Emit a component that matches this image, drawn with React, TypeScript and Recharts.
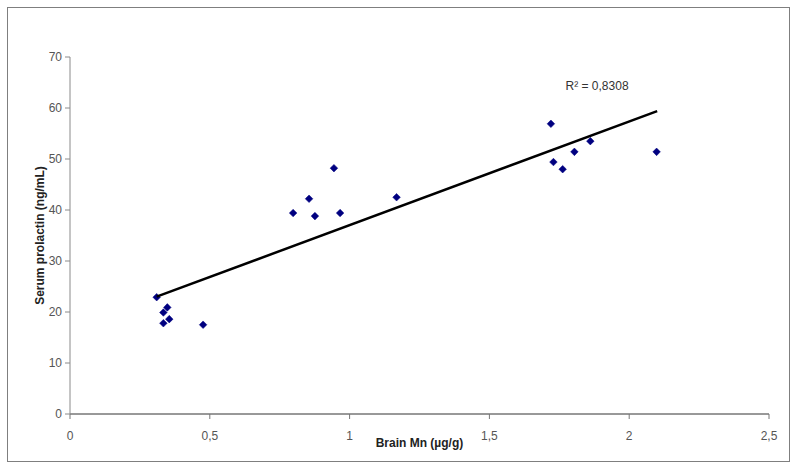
import React from 'react';
import { ScatterChart, Scatter, XAxis, YAxis, ReferenceDot } from 'recharts';

const brainMn = [0.31, 0.334, 0.348, 0.334, 0.355, 0.476, 0.798, 0.855, 0.876, 0.944, 0.966, 1.168, 1.72, 1.729, 1.762, 1.804, 1.861, 2.098];
const prolactin = [22.9, 19.9, 20.9, 17.8, 18.6, 17.5, 39.4, 42.2, 38.8, 48.2, 39.4, 42.5, 56.9, 49.4, 48.0, 51.4, 53.5, 51.4];
const trendX = [0.31, 2.1];
const trendY = [23.0, 59.4];
const xTicks = [0, 0.5, 1, 1.5, 2, 2.5];
const yTicks = [0, 10, 20, 30, 40, 50, 60, 70];
const r2Label = 'R² = 0,8308';
const r2Pos = { x: 1.885, y: 64.4 };

const points = brainMn.map((x, i) => ({ x, y: prolactin[i] }));
const trend = trendX.map((x, i) => ({ x, y: trendY[i] }));

const FONT = '"Liberation Sans", Arial, sans-serif';

const Diamond = (props: any) => {
  const { cx, cy } = props;
  if (cx == null || cy == null) return <g />;
  const r = 3.8;
  return (
    <polygon
      points={`${cx},${cy - r} ${cx + r},${cy} ${cx},${cy + r} ${cx - r},${cy}`}
      fill="#000080"
      stroke="#000080"
      strokeWidth={0.5}
    />
  );
};

const Empty = () => <g />;

const fmt = (v: number) => String(v).replace('.', ',');

export default function App() {
  return (
    <div style={{ position: 'absolute', left: 0, top: 0, width: 795, height: 470, background: '#fff' }}>
      <div
        style={{
          position: 'absolute',
          left: 7,
          top: 7,
          width: 781,
          height: 453,
          border: '1px solid #7f7f7f',
          boxSizing: 'content-box',
        }}
      />
      <div style={{ position: 'absolute', left: 0, top: 0 }}>
        <ScatterChart width={795} height={470} margin={{ top: 57, right: 26, bottom: 26, left: 10 }}>
          <XAxis
            type="number"
            dataKey="x"
            domain={[0, 2.5]}
            ticks={xTicks}
            tickFormatter={fmt}
            height={30}
            stroke="#333"
            tickSize={5}
            tickMargin={12}
            tick={{ fill: '#555', fontSize: 12, fontFamily: FONT }}
            tickLine={{ stroke: '#777' }}
            label={{
              value: 'Brain Mn (µg/g)',
              position: 'insideBottom',
              offset: -3,
              style: { fill: '#222', fontSize: 12, fontWeight: 'bold', fontFamily: FONT },
            }}
          />
          <YAxis
            type="number"
            dataKey="y"
            domain={[0, 70]}
            ticks={yTicks}
            width={60}
            stroke="#8a8a8a"
            tickSize={5}
            tickMargin={3}
            tick={{ fill: '#555', fontSize: 12, fontFamily: FONT }}
            label={{
              value: 'Serum prolactin (ng/mL)',
              angle: -90,
              position: 'center',
              style: { fill: '#222', fontSize: 12, fontWeight: 'bold', fontFamily: FONT, textAnchor: 'middle' },
            }}
          />
          <Scatter data={points} shape={<Diamond />} isAnimationActive={false} />
          <Scatter
            data={trend}
            line={{ stroke: '#000', strokeWidth: 2.5 }}
            lineType="joint"
            shape={<Empty />}
            isAnimationActive={false}
          />
          <ReferenceDot
            x={r2Pos.x}
            y={r2Pos.y}
            r={0}
            fill="none"
            stroke="none"
            label={{ value: r2Label, position: 'center', style: { fill: '#333', fontSize: 12, fontFamily: FONT } }}
          />
        </ScatterChart>
      </div>
    </div>
  );
}
